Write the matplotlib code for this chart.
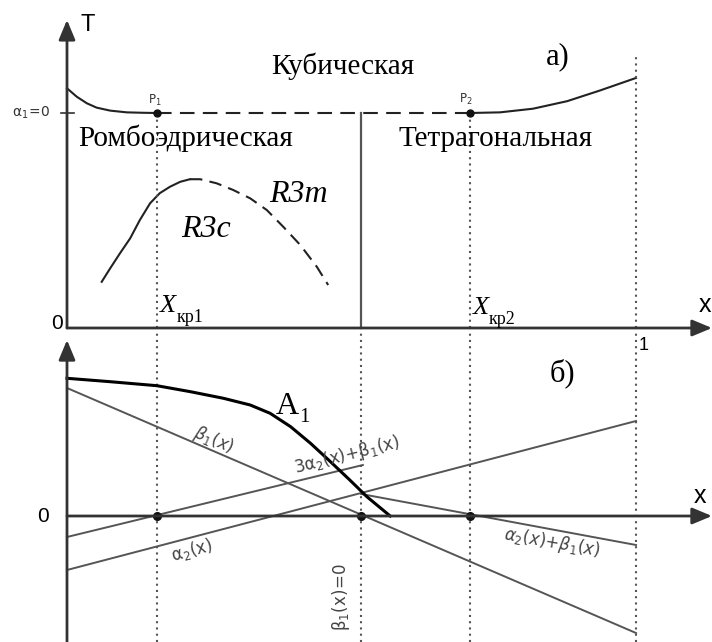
import matplotlib
matplotlib.use("Agg")
import matplotlib.pyplot as plt

plt.rcParams['mathtext.fontset'] = 'dejavusans'

# --- data, x is the composition 0..1 ---
x_kr1 = 0.158
x_b = 0.517      # beta1(x)=0, rhombohedral / tetragonal boundary
x_kr2 = 0.708
x_end = 1.0

# a) phase diagram, T in arbitrary units (alpha1=0 line at T=1)
T_alpha1 = 1.0
left_x = [0.0, 0.017, 0.035, 0.052, 0.076, 0.105, 0.134, 0.158]
left_T = [1.115, 1.076, 1.045, 1.025, 1.011, 1.003, 1.001, 1.0]
right_x = [0.708, 0.761, 0.819, 0.879, 0.937, 1.0]
right_T = [1.0, 1.003, 1.020, 1.055, 1.105, 1.163]
r3c_x = [0.061, 0.076, 0.093, 0.111, 0.128, 0.146, 0.163, 0.181, 0.199, 0.216]
r3c_T = [0.215, 0.278, 0.347, 0.417, 0.502, 0.580, 0.627, 0.657, 0.680, 0.692]
r3m_x = [0.216, 0.234, 0.263, 0.292, 0.322, 0.351, 0.380, 0.410, 0.439, 0.459]
r3m_T = [0.692, 0.692, 0.673, 0.642, 0.603, 0.549, 0.471, 0.386, 0.285, 0.200]
T_top_dotted = 1.28

# b) coefficients
A1_x = [0.0, 0.076, 0.158, 0.217, 0.275, 0.322, 0.357, 0.393, 0.428, 0.463, 0.497, 0.527, 0.568]
A1_v = [1.377, 1.343, 1.303, 1.243, 1.177, 1.110, 1.027, 0.893, 0.727, 0.543, 0.360, 0.193, 0.0]
beta1_x = [0.0, 1.0]
beta1_v = [1.28, -1.17]
s3_x = [0.0, 0.52]
s3_v = [-0.21, 0.51]
alpha2_x = [0.0, 1.0]
alpha2_v = [-0.54, 0.95]
sum_x = [0.517, 1.0]
sum_v = [0.22, -0.29]

gray = '#555555'
axc = '#333333'
lab = '#444444'
serif = ['Liberation Serif', 'DejaVu Serif']
sans = ['Liberation Sans', 'DejaVu Sans']

fig = plt.figure(figsize=(7.12, 6.42), dpi=100)
ax1 = fig.add_axes([0, 1 - 330 / 642, 1, 330 / 642])
ax2 = fig.add_axes([0, 0, 1, 312 / 642])
xl = (-67 / 569, 645 / 569)
ax1.set_xlim(*xl)
ax1.set_ylim(-2 / 215, 328 / 215)
ax2.set_xlim(*xl)
ax2.set_ylim(-1.26, 1.86)
for ax in (ax1, ax2):
    ax.axis('off')


def arrow(ax, start, tip):
    ax.annotate('', xy=tip, xytext=start, annotation_clip=False,
                arrowprops=dict(arrowstyle='-|>,head_length=0.6,head_width=0.25',
                                mutation_scale=20, lw=2, color=axc,
                                shrinkA=0, shrinkB=0))


dot = dict(color=gray, lw=1.5, ls=(0, (1, 2)))

# ---------- a) ----------
arrow(ax1, (0, 0), (0, 1.433))
arrow(ax1, (0, 0), (xl[1], 0))
ax1.plot([-0.01, 0.012], [T_alpha1, T_alpha1], color=axc, lw=1.2)
ax1.plot(left_x, left_T, color='#222222', lw=1.5)
ax1.plot(right_x, right_T, color='#222222', lw=1.5)
ax1.plot([x_kr1, x_kr2], [T_alpha1, T_alpha1], color='#222222', lw=1.5, ls=(0, (7, 4)))
ax1.plot(r3c_x, r3c_T, color='#222222', lw=1.5)
ax1.plot(r3m_x, r3m_T, color='#222222', lw=1.5, ls=(0, (6, 3.5)))
ax1.plot([x_b, x_b], [0, T_alpha1], color=gray, lw=1.6)
ax1.plot([x_kr1, x_kr1], [0, T_alpha1], **dot)
ax1.plot([x_kr2, x_kr2], [0, T_alpha1], **dot)
ax1.plot([x_end, x_end], [0, T_top_dotted], **dot)
ax1.plot([x_kr1, x_kr2], [T_alpha1, T_alpha1], 'o', color='#111111', ms=5)

ax1.text(0.037, 1.409, 'T', family=sans, fontsize=17, ha='center', va='center')
ax1.text(0.485, 1.219, 'Кубическая', family=serif, fontsize=21, ha='center', va='center')
ax1.text(0.863, 1.262, 'а)', family=serif, fontsize=22, ha='center', va='center')
ax1.text(-0.063, 1.0, r'$\mathrm{\alpha_1\!=\!0}$', fontsize=10, ha='center', va='center', color=axc)
ax1.text(0.155, 1.06, r'$\mathrm{P_1}$', fontsize=8.5, ha='center', va='center', color=axc)
ax1.text(0.701, 1.065, r'$\mathrm{P_2}$', fontsize=8.5, ha='center', va='center', color=axc)
ax1.text(0.209, 0.884, 'Ромбоэдрическая', family=serif, fontsize=21, ha='center', va='center')
ax1.text(0.754, 0.879, 'Тетрагональная', family=serif, fontsize=21, ha='center', va='center')
ax1.text(0.406, 0.619, 'R3m', family=serif, style='italic', fontsize=23, ha='center', va='center')
ax1.text(0.244, 0.460, 'R3c', family=serif, style='italic', fontsize=23, ha='center', va='center')
ax1.text(0.178, 0.102, 'X', family=serif, style='italic', fontsize=19, ha='center', va='center')
ax1.text(0.216, 0.047, 'кр1', family=serif, fontsize=13, ha='center', va='center')
ax1.text(0.728, 0.095, 'X', family=serif, style='italic', fontsize=19, ha='center', va='center')
ax1.text(0.765, 0.040, 'кр2', family=serif, fontsize=13, ha='center', va='center')
ax1.text(-0.018, 0.023, '0', family=sans, fontsize=15, ha='center', va='center')
ax1.text(1.121, 0.107, 'x', family=sans, fontsize=18, ha='center', va='center')

# ---------- b) ----------
arrow(ax2, (0, -1.26), (0, 1.76))
arrow(ax2, (0, 0), (xl[1], 0))
for xv in (x_kr1, x_b, x_kr2, x_end):
    ax2.plot([xv, xv], [-1.26, 1.86], **dot)
ax2.plot(beta1_x, beta1_v, color=gray, lw=1.4)
ax2.plot(s3_x, s3_v, color=gray, lw=1.4)
ax2.plot(alpha2_x, alpha2_v, color=gray, lw=1.4)
ax2.plot(sum_x, sum_v, color=gray, lw=1.4)
ax2.plot(A1_x, A1_v, color='black', lw=2.2)
ax2.plot([x_kr1, x_b, x_kr2], [0, 0, 0], 'o', color='#111111', ms=5.5)

ax2.text(0.870, 1.43, 'б)', family=serif, fontsize=22, ha='center', va='center')
ax2.text(1.014, 1.71, '1', family=sans, fontsize=13, ha='center', va='center')
ax2.text(0.388, 1.09, 'A', family=serif, fontsize=23, ha='center', va='center')
ax2.text(0.418, 0.98, '1', family=serif, fontsize=15, ha='center', va='center')
ax2.text(0.257, 0.76, r'$\beta_1(x)$', fontsize=12, ha='center', va='center',
         rotation=-23, rotation_mode='anchor', color=lab)
ax2.text(0.492, 0.61, r'$\mathrm{3\alpha_2(x){+}\beta_1(x)}$', fontsize=12, ha='center', va='center',
         rotation=14, rotation_mode='anchor', color=lab)
ax2.text(0.220, -0.34, r'$\mathrm{\alpha_2(x)}$', fontsize=12, ha='center', va='center',
         rotation=15, rotation_mode='anchor', color=lab)
ax2.text(0.852, -0.27, r'$\alpha_2(x){+}\beta_1(x)$', fontsize=12, ha='center', va='center',
         rotation=-10, rotation_mode='anchor', color=lab)
ax2.text(0.482, -0.81, r'$\mathrm{\beta_1(x)\!=\!0}$', fontsize=12, ha='center', va='center',
         rotation=90, rotation_mode='anchor', color=lab)
ax2.text(-0.042, 0.0, '0', family=sans, fontsize=15, ha='center', va='center')
ax2.text(1.112, 0.20, 'x', family=sans, fontsize=18, ha='center', va='center')

fig.savefig('out.png', dpi=100)
